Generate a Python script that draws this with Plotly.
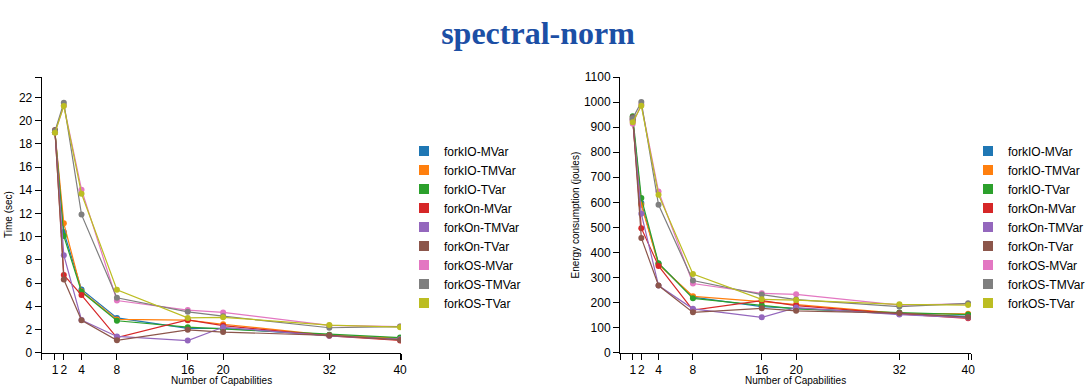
import plotly.graph_objects as go

capabilities = [1, 2, 4, 8, 16, 20, 32, 40]
series_names = ["forkIO-MVar", "forkIO-TMVar", "forkIO-TVar",
                "forkOn-MVar", "forkOn-TMVar", "forkOn-TVar",
                "forkOS-MVar", "forkOS-TMVar", "forkOS-TVar"]
colors = ["#1f77b4", "#ff7f0e", "#2ca02c", "#d62728", "#9467bd",
          "#8c564b", "#e377c2", "#7f7f7f", "#bcbd22"]

# Time (sec)
time_forkIO_MVar = [19.0, 10.4, 5.45, 3.0, 2.1, 2.1, 1.5, 1.2]
time_forkIO_TMVar = [19.0, 11.15, 5.3, 2.87, 2.8, 2.45, 1.5, 1.25]
time_forkIO_TVar = [19.0, 10.05, 5.25, 2.75, 2.2, 2.05, 1.55, 1.3]
time_forkOn_MVar = [19.1, 6.7, 4.97, 1.3, 2.82, 2.33, 1.45, 1.05]
time_forkOn_TMVar = [19.0, 8.4, 2.82, 1.4, 1.05, 2.19, 1.45, 1.15]
time_forkOn_TVar = [19.2, 6.3, 2.8, 1.07, 1.97, 1.78, 1.5, 1.1]
time_forkOS_MVar = [19.0, 21.3, 14.05, 4.5, 3.67, 3.47, 2.35, 2.25]
time_forkOS_TMVar = [19.1, 21.55, 11.9, 4.73, 3.52, 3.15, 2.15, 2.25]
time_forkOS_TVar = [18.95, 21.25, 13.7, 5.43, 3.0, 3.05, 2.38, 2.2]

# Energy consumption (joules)
energy_forkIO_MVar = [930, 597, 355, 222, 184, 177, 155, 145]
energy_forkIO_TMVar = [925, 590, 352, 225, 204, 193, 157, 155]
energy_forkIO_TVar = [943, 617, 357, 217, 189, 175, 160, 152]
energy_forkOn_MVar = [932, 497, 346, 170, 208, 188, 155, 137]
energy_forkOn_TMVar = [925, 554, 268, 175, 141, 180, 152, 140]
energy_forkOn_TVar = [939, 458, 268, 161, 177, 167, 158, 142]
energy_forkOS_MVar = [913, 990, 643, 276, 237, 233, 190, 195]
energy_forkOS_TMVar = [935, 1000, 590, 288, 232, 212, 184, 197]
energy_forkOS_TVar = [919, 985, 630, 314, 213, 210, 193, 190]

time_series = [time_forkIO_MVar, time_forkIO_TMVar, time_forkIO_TVar,
               time_forkOn_MVar, time_forkOn_TMVar, time_forkOn_TVar,
               time_forkOS_MVar, time_forkOS_TMVar, time_forkOS_TVar]
energy_series = [energy_forkIO_MVar, energy_forkIO_TMVar, energy_forkIO_TVar,
                 energy_forkOn_MVar, energy_forkOn_TMVar, energy_forkOn_TVar,
                 energy_forkOS_MVar, energy_forkOS_TMVar, energy_forkOS_TVar]

time_ticks = [0, 2, 4, 6, 8, 10, 12, 14, 16, 18, 20, 22]
energy_ticks = [0, 100, 200, 300, 400, 500, 600, 700, 800, 900, 1000, 1100]

title_text = "spectral-norm"
x_title = "Number of Capabilities"
y1_title = "Time (sec)"
y2_title = "Energy consumption (joules)"

FONT = "Liberation Sans, Arial, sans-serif"
W, H = 1090, 387

fig = go.Figure()

for name, col, ys in zip(series_names, colors, time_series):
    fig.add_trace(go.Scatter(x=capabilities, y=ys, mode="lines+markers", name=name,
                             line=dict(color=col, width=1.2),
                             marker=dict(color=col, size=6),
                             showlegend=False, xaxis="x", yaxis="y"))
for name, col, ys in zip(series_names, colors, energy_series):
    fig.add_trace(go.Scatter(x=capabilities, y=ys, mode="lines+markers", name=name,
                             line=dict(color=col, width=1.2),
                             marker=dict(color=col, size=6),
                             showlegend=False, xaxis="x2", yaxis="y2"))
# legend entries (square swatches)
for name, col in zip(series_names, colors):
    fig.add_trace(go.Scatter(x=[None], y=[None], mode="markers", name=name,
                             marker=dict(color=col, size=10, symbol="square"),
                             legend="legend", xaxis="x", yaxis="y"))
for name, col in zip(series_names, colors):
    fig.add_trace(go.Scatter(x=[None], y=[None], mode="markers", name=name,
                             marker=dict(color=col, size=10, symbol="square"),
                             legend="legend2", xaxis="x2", yaxis="y2"))

y_dom = [(H - 352.7) / H, (H - 77.0) / H]
x1_lo, x1_hi = -0.5, 40.1
x2_lo, x2_hi = -0.48, 40.33
y1_hi = 23.76

def xaxis(dom, lo, hi, anchor):
    return dict(domain=dom, range=[lo, hi], anchor=anchor,
                tickvals=[lo] + capabilities + [hi],
                ticktext=[""] + [str(c) for c in capabilities] + [""],
                tickangle=0, automargin=False,
                showline=True, linecolor="black", linewidth=1,
                ticks="outside", ticklen=6, tickcolor="black", tickwidth=1,
                showgrid=False, zeroline=False,
                tickfont=dict(family=FONT, size=12, color="black"))

def yaxis(lo, hi, ticks, anchor):
    tv = list(ticks) + ([hi] if hi > ticks[-1] else [])
    tt = [str(t) for t in ticks] + ([""] if hi > ticks[-1] else [])
    return dict(domain=y_dom, range=[lo, hi], anchor=anchor,
                tickvals=tv, ticktext=tt, automargin=False,
                showline=True, linecolor="black", linewidth=1,
                ticks="outside", ticklen=6, tickcolor="black", tickwidth=1,
                showgrid=False, zeroline=False,
                tickfont=dict(family=FONT, size=12, color="black"))

legend_style = dict(font=dict(family=FONT, size=12, color="black"),
                    bgcolor="rgba(0,0,0,0)", borderwidth=0,
                    xanchor="left", yanchor="top", itemclick=False, itemdoubleclick=False)

fig.update_layout(
    width=W, height=H,
    margin=dict(l=0, r=0, t=0, b=0, pad=0, autoexpand=False),
    paper_bgcolor="white", plot_bgcolor="white",
    title=dict(text="<b>" + title_text + "</b>", x=0.4936, xanchor="center",
               y=1 - 33 / H, yanchor="middle", yref="container",
               font=dict(family="Liberation Serif, Times New Roman, serif",
                         size=32, color="#1c4fa5")),
    xaxis=xaxis([41.7 / W, 401 / W], x1_lo, x1_hi, "y"),
    yaxis=yaxis(0, y1_hi, time_ticks, "x"),
    xaxis2=xaxis([620 / W, 971 / W], x2_lo, x2_hi, "y2"),
    yaxis2=yaxis(0, 1100, energy_ticks, "x2"),
    legend=dict(x=404 / W, y=(H - 136.5) / H, **legend_style),
    legend2=dict(x=968 / W, y=(H - 136.5) / H, **legend_style),
    annotations=[
        dict(text=x_title, x=221.5 / W, y=(H - 380) / H, xref="paper", yref="paper",
             showarrow=False, xanchor="center", yanchor="middle",
             font=dict(family=FONT, size=10, color="black")),
        dict(text=x_title, x=795.5 / W, y=(H - 380) / H, xref="paper", yref="paper",
             showarrow=False, xanchor="center", yanchor="middle",
             font=dict(family=FONT, size=10, color="black")),
        dict(text=y1_title, x=8 / W, y=(H - 215) / H, xref="paper", yref="paper",
             showarrow=False, xanchor="center", yanchor="middle", textangle=-90,
             font=dict(family=FONT, size=10, color="black")),
        dict(text=y2_title, x=574.5 / W, y=(H - 215) / H, xref="paper", yref="paper",
             showarrow=False, xanchor="center", yanchor="middle", textangle=-90,
             font=dict(family=FONT, size=10, color="black")),
    ],
)

fig.write_html("out.html", config={"displayModeBar": False},
               post_script="document.body.style.margin='0';document.body.style.overflow='hidden';")
